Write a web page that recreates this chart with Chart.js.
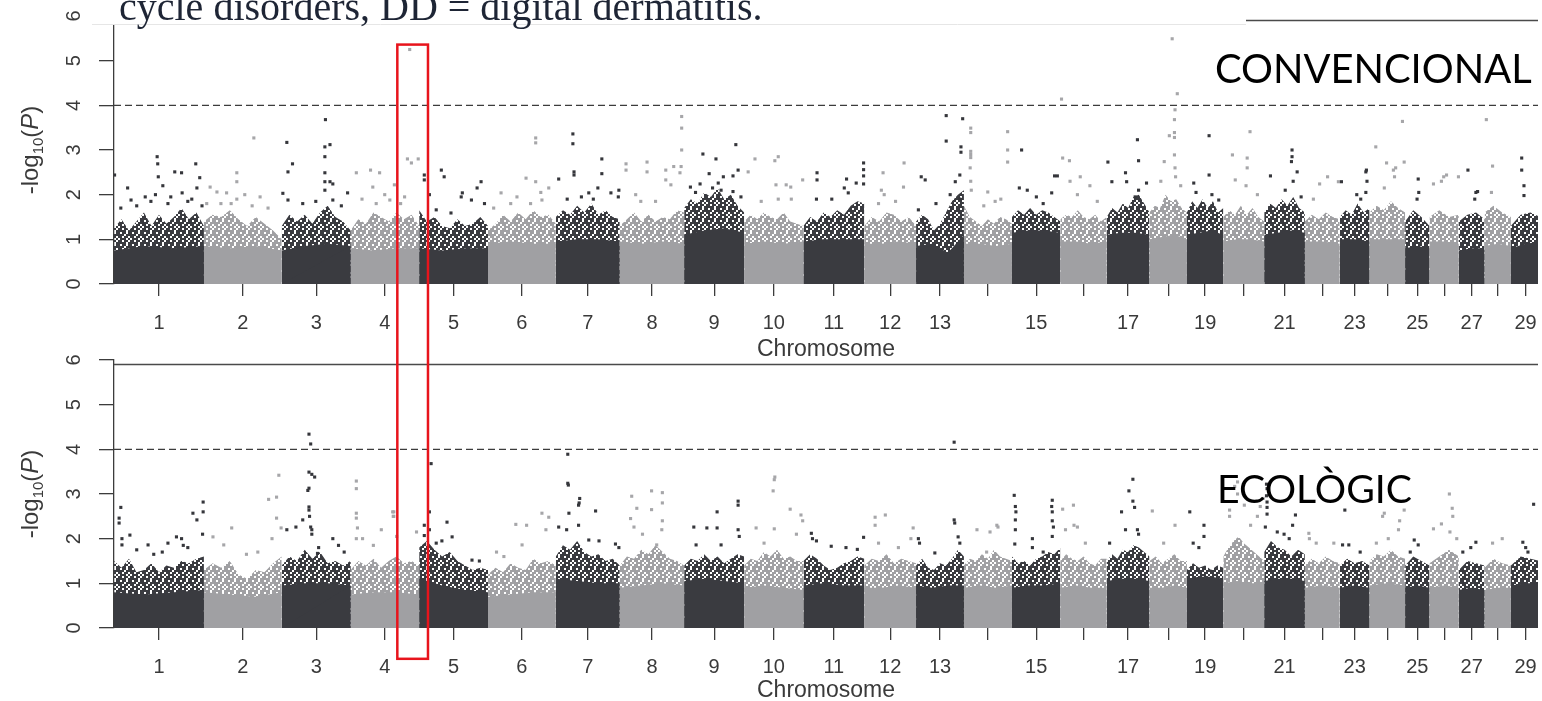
<!DOCTYPE html>
<html>
<head>
<meta charset="utf-8">
<script src="https://cdn.jsdelivr.net/npm/chart.js@4.4.1/dist/chart.umd.min.js"></script>
<style>
  body { margin: 0; background: #fff; }
  #wrap { position: relative; width: 1542px; height: 701px; overflow: hidden; background: #fff; }
  #wrap canvas { position: absolute; left: 0; top: 0; }
</style>
</head>
<body>
<div id="wrap">
  <canvas id="convChart" width="1542" height="701"></canvas>
  <canvas id="ecoChart" width="1542" height="701"></canvas>
</div>
<script>
// Chromosome lengths (Mb) and tick labels
const chromLengths = [158.3, 137.1, 121.4, 120.7, 121.2, 119.5, 112.6, 113.4, 105.7, 104.3,
  107.3, 91.2, 84.2, 84.6, 85.3, 81.7, 75.2, 66.0, 64.1, 72.0,
  71.6, 61.4, 52.5, 62.7, 42.9, 51.7, 45.4, 46.3, 51.5];
const tickLabels = ['1', '2', '3', '4', '5', '6', '7', '8', '9', '10', '11', '12', '13', '',
  '15', '', '17', '', '19', '', '21', '', '23', '', '25', '', '27', '', '29'];
const yTicks = [0, 1, 2, 3, 4, 5, 6];
const threshold = 4;

// CONVENCIONAL: solid block height and fuzzy cloud height along each chromosome
const convBody = [
  [0.75, 0.85, 0.8, 0.85], [0.85, 0.8, 0.85, 0.75], [0.75, 0.85, 0.9, 0.85], [0.8, 0.75, 0.8, 0.8],
  [0.8, 0.75, 0.8, 0.8], [0.9, 0.95, 0.9, 0.9], [0.95, 1.0, 1.0, 0.95], [0.95, 0.9, 0.95, 0.9],
  [1.1, 1.2, 1.25, 1.15], [0.9, 0.95, 0.9, 0.95], [0.95, 1.0, 1.0, 1.0], [0.9, 0.9, 0.95, 0.9],
  [0.85, 0.9, 0.7, 1.1], [0.9, 0.9, 0.85, 0.9], [1.15, 1.2, 1.2, 1.15], [0.95, 0.95, 0.9, 0.95],
  [1.1, 1.15, 1.15, 1.1], [1.0, 1.05, 1.1, 1.0], [1.1, 1.15, 1.2, 1.1], [0.95, 1.0, 1.0, 0.95],
  [1.1, 1.15, 1.2, 1.15], [0.95, 0.95, 0.9], [1.0, 1.0, 0.95], [1.0, 1.0, 1.0],
  [0.8, 0.85, 0.8], [0.95, 0.95, 0.9], [0.75, 0.8, 0.8], [0.85, 0.9, 0.85], [0.8, 0.9, 0.95]
];
const convCloud = [
  [1.25, 1.45, 1.2, 1.4, 1.6, 1.3, 1.55, 1.35, 1.5, 1.7, 1.45, 1.6, 1.3],
  [1.4, 1.55, 1.5, 1.65, 1.45, 1.3, 1.5, 1.35, 1.2, 1.0],
  [1.3, 1.55, 1.4, 1.55, 1.35, 1.6, 1.75, 1.5, 1.4, 1.2],
  [1.2, 1.45, 1.35, 1.6, 1.5, 1.4, 1.6, 1.45, 1.55, 1.3],
  [1.65, 1.4, 1.5, 1.3, 1.25, 1.45, 1.3, 1.35, 1.5, 1.3],
  [1.2, 1.35, 1.55, 1.4, 1.6, 1.45, 1.65, 1.5, 1.55, 1.35],
  [1.5, 1.65, 1.55, 1.75, 1.6, 1.8, 1.55, 1.65, 1.5, 1.45],
  [1.3, 1.45, 1.6, 1.4, 1.55, 1.4, 1.5, 1.45, 1.65, 1.6],
  [1.7, 1.9, 1.8, 2.05, 1.95, 2.15, 1.9, 2.0, 1.75, 1.6],
  [1.4, 1.55, 1.45, 1.6, 1.5, 1.45, 1.6, 1.4, 1.35, 1.3],
  [1.3, 1.5, 1.4, 1.6, 1.5, 1.65, 1.55, 1.75, 1.85, 1.8],
  [1.3, 1.5, 1.4, 1.6, 1.55, 1.4, 1.5, 1.3],
  [1.4, 1.55, 1.45, 1.2, 1.35, 1.6, 1.85, 2.0, 2.1],
  [1.75, 1.5, 1.4, 1.3, 1.45, 1.35, 1.5, 1.45, 1.35],
  [1.5, 1.65, 1.55, 1.7, 1.55, 1.65, 1.6, 1.5, 1.4],
  [1.45, 1.55, 1.5, 1.65, 1.5, 1.45, 1.55, 1.4, 1.5],
  [1.5, 1.7, 1.6, 1.8, 1.7, 1.95, 2.0, 1.8, 1.6],
  [1.6, 1.75, 1.7, 2.0, 1.85, 1.9, 1.7, 1.6],
  [1.6, 1.85, 1.7, 1.9, 1.7, 1.85, 1.6, 1.7],
  [1.5, 1.65, 1.55, 1.75, 1.55, 1.7, 1.5, 1.4],
  [1.6, 1.8, 1.7, 1.9, 1.75, 1.95, 1.7, 1.6],
  [1.4, 1.55, 1.45, 1.6, 1.5, 1.45],
  [1.5, 1.65, 1.55, 1.8, 1.6, 1.7],
  [1.6, 1.75, 1.65, 1.85, 1.7, 1.6],
  [1.4, 1.65, 1.5, 1.3],
  [1.5, 1.65, 1.5, 1.55],
  [1.4, 1.55, 1.6, 1.45],
  [1.6, 1.75, 1.6, 1.5],
  [1.3, 1.55, 1.6, 1.5]
];
// [chromosome, position in Mb, -log10(P)]
const convHits = [
  [1,1,2.44],[1,24,2.15],[1,30,1.88],[1,55,1.95],[1,76,2.85],[1,77,2.69],[1,78,2.4],[1,86,2.2],[1,107,2.51],
  [1,119,2.49],[1,120,2.04],[1,144,2.69],[1,151,2.38],[1,146,2.15],[1,73,2.0],[1,40,1.75],[1,95,1.8],[1,130,1.85],
  [1,12,1.7],[1,65,1.85],[1,100,1.95],[1,137,1.9],[1,155,1.75],
  [2,88,3.27],[2,58,2.49],[2,58,2.29],[2,11,2.17],[2,23,2.06],[2,40,2.04],[2,72,2.0],[2,99,1.95],[2,113,1.7],
  [2,58,1.9],[2,30,1.8],[2,85,1.75],[2,5,1.8],[2,48,1.8],
  [3,9,3.17],[3,19,2.69],[3,11,2.51],[3,2,2.03],[3,11,1.88],[3,77,3.68],[3,85,3.12],[3,76,3.07],[3,76,2.85],
  [3,76,2.49],[3,76,2.29],[3,85,2.29],[3,90,2.24],[3,76,2.1],[3,116,2.04],[3,90,1.88],[3,37,1.8],[3,60,1.85],[3,105,1.75],
  [4,10,2.49],[4,35,2.55],[4,51,2.49],[4,39,2.17],[4,77,2.22],[4,69,1.88],[4,104,5.25],[4,100,2.8],[4,107,2.71],
  [4,119,2.8],[4,95,1.95],[4,88,1.8],[4,20,1.9],[4,60,2.0],[4,45,1.8],
  [5,9,2.44],[5,9,2.33],[5,39,2.55],[5,44,2.4],[5,18,2.0],[5,76,2.04],[5,74,1.95],[5,102,2.15],[5,109,2.29],
  [5,92,1.88],[5,30,1.66],[5,56,1.59],[5,115,1.8],
  [6,84,3.27],[6,84,3.16],[6,67,2.37],[6,84,2.29],[6,107,2.15],[6,23,2.04],[6,51,1.95],[6,93,2.05],[6,95,1.88],
  [6,10,1.7],[6,40,1.8],[6,75,1.8],
  [7,30,3.36],[7,30,3.14],[7,32,2.51],[7,32,2.44],[7,5,2.35],[7,81,2.8],[7,81,2.47],[7,58,2.04],[7,74,2.15],
  [7,97,2.04],[7,111,2.1],[7,110,1.95],[7,20,1.9],[7,45,1.95],[7,66,1.9],
  [8,11,2.69],[8,11,2.55],[8,48,2.73],[8,48,2.51],[8,28,2.0],[8,37,1.85],[8,63,1.85],[8,81,2.55],[8,81,2.33],
  [8,95,2.63],[8,109,3.75],[8,109,3.49],[8,109,3.0],[8,108,2.63],[8,106,2.49],[8,90,2.22],
  [9,33,2.91],[9,56,2.8],[9,91,3.12],[9,95,2.55],[9,44,2.47],[9,69,2.4],[9,86,2.42],[9,28,2.24],[9,60,2.26],
  [9,65,2.1],[9,11,2.17],[9,86,2.07],[9,100,1.95],[9,20,2.05],[9,50,2.15],
  [10,19,2.8],[10,7,2.51],[10,54,2.76],[10,56,2.22],[10,74,2.22],[10,60,2.85],[10,82,2.17],[10,103,2.33],
  [10,60,1.9],[10,83,1.9],[10,30,1.85],
  [11,24,2.49],[11,24,2.33],[11,23,1.9],[11,76,2.35],[11,93,2.26],[11,106,2.71],[11,106,2.56],[11,106,2.42],
  [11,106,2.24],[11,72,2.15],[11,79,2.04],[11,50,1.9],
  [12,33,2.49],[12,70,2.71],[12,30,2.1],[12,35,2.0],[12,69,2.17],[12,25,1.8],[12,55,1.85],
  [13,53,3.77],[13,82,3.7],[13,53,3.2],[13,79,3.07],[13,79,2.95],[13,77,2.44],[13,69,2.29],[13,9,2.4],[13,16,2.33],
  [13,4,1.66],[13,60,2.0],[13,77,1.9],[13,35,1.8],
  [14,12,3.49],[14,12,3.39],[14,12,2.97],[14,12,2.9],[14,12,2.83],[14,11,2.6],[14,12,2.3],[14,13,2.1],[14,42,2.06],
  [14,77,3.41],[14,77,3.0],[14,77,2.73],[14,65,1.9],[14,35,1.75],[14,55,1.85],
  [15,17,3.0],[15,13,2.15],[15,27,2.1],[15,75,2.42],[15,80,2.42],[15,43,1.95],[15,70,2.04],[15,55,1.8],
  [16,2,4.14],[16,4,2.82],[16,16,2.76],[16,35,2.4],[16,17,2.3],[16,52,2.2],[16,30,2.0],[16,65,1.85],
  [17,2,2.73],[17,54,3.23],[17,56,2.76],[17,33,2.49],[17,9,2.29],[17,35,2.29],[17,70,2.26],[17,56,2.1],[17,50,1.95],
  [18,40,5.49],[18,49,4.26],[18,45,3.9],[18,44,3.68],[18,44,3.39],[18,35,3.32],[18,44,3.28],[18,44,2.89],
  [18,26,2.74],[18,45,2.6],[18,46,2.4],[18,20,2.3],[18,55,2.2],
  [19,39,3.32],[19,39,2.44],[19,12,2.26],[19,16,2.05],[19,44,2.0],[19,56,1.88],
  [20,47,3.41],[20,16,2.89],[20,42,2.82],[20,42,2.6],[20,21,2.33],[20,40,2.2],[20,60,2.0],
  [21,49,3.0],[21,49,2.85],[21,48,2.74],[21,58,2.51],[21,11,2.42],[21,37,2.1],[21,51,2.3],[21,65,1.95],
  [22,26,2.24],[22,40,2.4],[22,59,2.29],[22,15,1.9],
  [23,46,2.51],[23,47,2.55],[23,48,2.3],[23,3,2.29],[23,46,2.05],[23,30,2.0],[23,37,1.9],
  [24,11,3.07],[24,30,2.71],[24,42,2.55],[24,46,2.6],[24,44,2.4],[24,26,2.15],[24,58,3.64],[24,61,2.73],
  [25,23,2.35],[25,24,2.05],[25,21,1.9],
  [26,25,2.4],[26,30,2.44],[26,51,2.4],[26,7,2.24],[26,21,2.3],
  [27,16,2.55],[27,30,2.05],[27,33,2.07],[27,28,1.9],
  [28,3,3.68],[28,14,2.64],[28,12,2.05],
  [29,19,2.82],[29,19,2.55],[29,23,2.2],[29,23,1.98]
];

// ECOLÒGIC
const ecoBody = [
  [0.8, 0.75, 0.8, 0.85], [0.8, 0.75, 0.7, 0.8], [0.95, 1.0, 1.0, 0.95], [0.75, 0.8, 0.8, 0.75],
  [1.1, 0.95, 0.85, 0.8], [0.7, 0.75, 0.8, 0.8], [1.1, 1.05, 1.0, 1.0], [0.9, 0.95, 1.0, 0.95],
  [1.05, 1.1, 1.05, 1.0], [0.9, 0.95, 0.9, 0.85], [0.95, 1.0, 0.95, 0.95], [0.9, 0.9, 0.95, 0.9],
  [0.95, 0.9, 0.95, 0.95], [0.9, 0.95, 0.9, 0.95], [0.9, 0.95, 0.95, 1.0], [0.9, 0.95, 0.9, 0.9],
  [1.05, 1.1, 1.1, 1.05], [0.9, 0.9, 0.95, 0.9], [1.1, 1.15, 1.15, 1.1], [1.0, 1.05, 1.0, 1.0],
  [1.05, 1.1, 1.1, 1.05], [0.9, 0.95, 0.9], [0.9, 0.95, 0.9], [0.95, 1.0, 0.95],
  [0.9, 0.95, 0.9], [0.9, 0.95, 0.9], [0.85, 0.9, 0.85], [0.85, 0.9, 0.9], [0.95, 1.0, 1.0]
];
const ecoCloud = [
  [1.5, 1.35, 1.55, 1.25, 1.3, 1.45, 1.25, 1.4, 1.35, 1.5, 1.45, 1.55, 1.6],
  [1.3, 1.45, 1.35, 1.5, 1.2, 1.1, 1.3, 1.25, 1.45, 1.6],
  [1.4, 1.6, 1.5, 1.75, 1.55, 1.7, 1.45, 1.5, 1.4, 1.5],
  [1.3, 1.5, 1.4, 1.55, 1.35, 1.5, 1.6, 1.45, 1.5, 1.4],
  [1.8, 1.95, 1.75, 1.6, 1.7, 1.5, 1.4, 1.3, 1.35, 1.3],
  [1.2, 1.35, 1.25, 1.45, 1.35, 1.3, 1.55, 1.45, 1.5, 1.4],
  [1.6, 1.85, 1.75, 1.95, 1.7, 1.6, 1.65, 1.5, 1.55, 1.4],
  [1.4, 1.6, 1.55, 1.75, 1.65, 1.85, 1.7, 1.55, 1.5, 1.4],
  [1.4, 1.55, 1.5, 1.65, 1.5, 1.6, 1.45, 1.55, 1.65, 1.6],
  [1.4, 1.55, 1.5, 1.7, 1.6, 1.75, 1.55, 1.6, 1.5, 1.5],
  [1.5, 1.65, 1.55, 1.4, 1.3, 1.35, 1.45, 1.5, 1.6, 1.55],
  [1.4, 1.55, 1.5, 1.65, 1.45, 1.55, 1.5, 1.45],
  [1.4, 1.55, 1.35, 1.3, 1.45, 1.4, 1.55, 1.75, 1.6],
  [1.4, 1.55, 1.5, 1.65, 1.55, 1.75, 1.6, 1.55, 1.5],
  [1.6, 1.45, 1.5, 1.4, 1.55, 1.6, 1.7, 1.65, 1.8],
  [1.5, 1.65, 1.55, 1.5, 1.6, 1.45, 1.4, 1.55, 1.55],
  [1.5, 1.65, 1.55, 1.75, 1.7, 1.85, 1.8, 1.7, 1.6],
  [1.5, 1.6, 1.45, 1.55, 1.65, 1.5, 1.5],
  [1.3, 1.45, 1.35, 1.4, 1.3, 1.4, 1.35],
  [1.6, 1.8, 1.95, 2.05, 1.9, 1.8, 1.7, 1.6, 1.5],
  [1.7, 1.95, 1.8, 1.75, 1.6, 1.75, 1.65],
  [1.4, 1.55, 1.45, 1.6, 1.5, 1.45],
  [1.4, 1.55, 1.45, 1.5, 1.4],
  [1.5, 1.65, 1.6, 1.75, 1.6, 1.55],
  [1.4, 1.6, 1.5, 1.4],
  [1.45, 1.6, 1.75, 1.6],
  [1.3, 1.5, 1.45, 1.4],
  [1.35, 1.55, 1.45, 1.4],
  [1.4, 1.6, 1.55, 1.5]
];
const ecoHits = [
  [1,12,2.7],[1,9,2.46],[1,9,2.35],[1,28,2.08],[1,14,2.0],[1,14,1.86],[1,60,1.86],[1,110,2.04],[1,119,2.0],
  [1,139,2.57],[1,146,2.42],[1,157,2.82],[1,157,2.6],[1,156,2.1],[1,130,1.8],[1,95,1.9],[1,85,1.7],[1,40,1.75],
  [1,70,1.65],[1,122,1.85],
  [2,114,2.88],[2,128,2.93],[2,132,3.42],[2,128,2.46],[2,120,2.0],[2,136,2.24],[2,49,2.24],[2,16,2.04],
  [2,35,1.86],[2,95,1.7],[2,75,1.65],
  [3,48,4.34],[3,51,4.12],[3,48,3.49],[3,53,3.44],[3,58,3.38],[3,48,3.13],[3,46,3.08],[3,48,2.71],[3,48,2.64],
  [3,49,2.5],[3,51,2.26],[3,53,2.2],[3,53,2.1],[3,37,2.42],[3,25,2.26],[3,90,2.0],[3,63,1.67],[3,65,1.8],
  [3,110,1.7],[3,9,2.2],[3,100,1.85],
  [4,10,3.29],[4,10,3.12],[4,10,2.57],[4,10,2.46],[4,12,2.24],[4,10,2.0],[4,54,2.2],[4,74,2.6],[4,75,2.5],
  [4,76,2.6],[4,76,2.5],[4,116,2.15],[4,81,2.05],[4,21,2.0],[4,40,1.85],
  [5,21,3.68],[5,18,2.6],[5,9,2.3],[5,18,2.2],[5,49,2.37],[5,58,2.04],[5,9,2.07],[5,93,1.52],[5,106,1.5],
  [5,30,1.9],[5,40,1.95],
  [6,49,2.32],[6,68,2.3],[6,95,2.57],[6,107,2.48],[6,102,2.2],[6,60,1.86],[6,28,1.6],[6,15,1.7],
  [7,21,3.89],[7,21,3.24],[7,22,3.2],[7,42,2.9],[7,41,2.8],[7,40,2.75],[7,23,2.57],[7,70,2.62],[7,5,2.26],
  [7,19,2.2],[7,40,2.3],[7,58,1.97],[7,76,1.95],[7,105,1.88],[7,111,1.8],
  [8,21,2.95],[8,30,2.68],[8,56,3.07],[8,75,3.03],[8,56,2.65],[8,75,2.8],[8,19,2.45],[8,25,2.26],[8,75,2.4],
  [8,74,2.2],[8,40,2.1],[8,65,1.86],
  [9,58,2.6],[9,95,2.84],[9,95,2.75],[9,17,2.26],[9,40,2.24],[9,58,2.24],[9,95,2.2],[9,97,2.05],[9,21,1.86],[9,65,1.86],
  [10,54,3.38],[10,53,3.32],[10,51,3.07],[10,21,2.24],[10,53,2.22],[10,81,2.66],[10,100,2.53],[10,103,2.4],
  [10,92,2.1],[10,35,1.9],
  [11,14,2.12],[11,16,2.0],[11,23,1.95],[11,49,1.83],[11,106,2.03],[11,95,1.76],[11,75,1.8],
  [12,19,2.48],[12,37,2.53],[12,19,2.3],[12,86,2.24],[12,82,2.0],[12,25,1.9],[12,60,1.8],
  [13,67,4.16],[13,67,2.42],[13,68,2.35],[13,74,2.04],[13,33,1.68],[13,4,2.0],[13,6,1.9],[13,77,1.9],
  [14,46,2.15],[14,60,2.26],[14,58,2.3],[14,23,2.2],[14,40,1.7],
  [15,4,2.97],[15,6,2.72],[15,7,2.6],[15,6,2.42],[15,6,2.2],[15,5,1.88],[15,71,2.86],[15,70,2.72],[15,71,2.6],
  [15,71,2.4],[15,73,2.26],[15,71,2.05],[15,36,2.0],[15,36,1.8],[15,55,1.7],
  [16,4,2.66],[16,23,2.75],[16,24,2.3],[16,30,2.26],[16,9,2.2],[16,44,1.9],
  [17,46,3.33],[17,39,3.07],[17,46,2.84],[17,49,2.7],[17,26,2.6],[17,33,2.2],[17,54,2.2],[17,5,1.9],[17,56,2.1],
  [18,5,2.62],[18,45,2.3],[18,25,1.9],
  [19,5,2.6],[19,30,2.3],[19,30,2.05],[19,11,1.9],[19,21,1.8],
  [20,11,2.64],[20,25,3.27],[20,20,3.17],[20,25,3.0],[20,37,2.75],[20,11,2.5],[20,60,2.5],[20,48,2.3],
  [20,65,2.72],[20,70,2.9],
  [21,4,3.22],[21,5,3.12],[21,4,2.96],[21,5,2.82],[21,5,2.7],[21,5,2.55],[21,2,2.26],[21,23,2.15],[21,55,2.53],
  [21,50,2.3],[21,44,2.0],[21,35,2.1],
  [22,7,2.12],[22,8,2.0],[22,20,1.9],[22,51,1.9],
  [23,9,2.64],[23,5,1.86],[23,16,1.86],[23,36,1.7],
  [24,26,2.57],[24,23,2.5],[24,53,2.4],[24,51,2.2],[24,12,1.9],[24,33,2.0],[24,61,2.64],
  [25,16,1.97],[25,23,1.86],[25,9,1.7],
  [26,7,2.22],[26,21,2.33],[26,35,3.0],[26,40,2.68],[26,41,2.5],[26,36,2.15],[26,48,2.0],
  [27,30,1.92],[27,21,1.8],[27,7,1.7],
  [28,31,2.0],[28,14,1.9],
  [29,40,2.77],[29,21,1.92],[29,26,1.8],[29,30,1.7]
];

// Colours and fonts
const darkCol = '#3a3b40';
const grayCol = '#a0a0a3';
const darkPt = '#35363b';
const grayPt = '#a6a6a9';
const axisInk = '#3a3a3a';
const sans = '"Liberation Sans", Arial, Helvetica, sans-serif';

// Speckle texture for the loose part of each point cloud ('.' = white gap)
const speckTile = [
  '#.##.#',
  '###.##',
  '.##.##',
  '##.###',
  '#.##.#',
  '###.#.'
];
function speckle(color) {
  const c = document.createElement('canvas');
  c.width = speckTile[0].length * 2;
  c.height = speckTile.length * 2;
  const g = c.getContext('2d');
  g.fillStyle = color;
  speckTile.forEach((row, r) => {
    [...row].forEach((ch, k) => { if (ch === '#') g.fillRect(k * 2, r * 2, 2, 2); });
  });
  return g.createPattern(c, 'repeat');
}
const darkFringe = speckle(darkCol);
const grayFringe = speckle(grayCol);

// Cumulative chromosome starts
const starts = [];
let acc = 0;
chromLengths.forEach(l => { starts.push(acc); acc += l; });
const mids = chromLengths.map((l, i) => starts[i] + l / 2);
const xMax = 2508;

// Polygon along one chromosome: values read at even steps from start to end
function profile(i, values) {
  const s = starts[i], len = chromLengths[i], n = values.length;
  const pts = [{ x: s, y: 0 }];
  values.forEach((v, j) => pts.push({ x: s + len * j / (n - 1), y: v }));
  pts.push({ x: s + len, y: 0 });
  return pts;
}

function buildDatasets(body, cloud, hits) {
  const sets = [];
  sets.push({
    type: 'line', data: [{ x: 0, y: threshold }, { x: xMax, y: threshold }],
    borderColor: '#3c3c3c', borderWidth: 1.3, borderDash: [7, 4], pointRadius: 0, fill: false, order: 0
  });
  sets.push({
    type: 'scatter',
    data: hits.map(h => ({ x: starts[h[0] - 1] + h[1], y: h[2] })),
    pointBackgroundColor: hits.map(h => h[0] % 2 ? darkPt : grayPt),
    pointStyle: 'rect', pointRadius: 2.2, pointBorderWidth: 0, order: 1
  });
  chromLengths.forEach((l, i) => {
    const dark = i % 2 === 0;
    sets.push({
      type: 'line', data: profile(i, body[i]), backgroundColor: dark ? darkCol : grayCol,
      borderColor: 'rgba(0,0,0,0)', borderWidth: 0, pointRadius: 0, fill: 'origin', order: 2
    });
    sets.push({
      type: 'line', data: profile(i, cloud[i]), backgroundColor: dark ? darkFringe : grayFringe,
      borderColor: 'rgba(0,0,0,0)', borderWidth: 0, pointRadius: 0, fill: 'origin', order: 3
    });
  });
  return sets;
}

function fitText(ctx, text, x, y, w, family) {
  ctx.font = '40px ' + family;
  const size = 40 * w / ctx.measureText(text).width;
  ctx.font = size.toFixed(1) + 'px ' + family;
  ctx.textAlign = 'left';
  ctx.textBaseline = 'alphabetic';
  ctx.fillText(text, x, y);
}

function drawYTitle(ctx, bx, cy) {
  const parts = [
    ['-log', '24px ' + sans, 0], ['10', '15px ' + sans, 5],
    ['(', '24px ' + sans, 0], ['P', 'italic 24px ' + sans, 0], [')', '24px ' + sans, 0]
  ];
  ctx.save();
  ctx.translate(bx, cy);
  ctx.rotate(-Math.PI / 2);
  let total = 0;
  parts.forEach(p => { ctx.font = p[1]; total += ctx.measureText(p[0]).width; });
  let xx = -total / 2;
  ctx.textAlign = 'left';
  ctx.textBaseline = 'alphabetic';
  ctx.fillStyle = axisInk;
  parts.forEach(p => { ctx.font = p[1]; ctx.fillText(p[0], xx, p[2]); xx += ctx.measureText(p[0]).width; });
  ctx.restore();
}

let convChart = null;
const redBox = { from: 499, to: 553, topVal: 5.36, bottomVal: -0.69 };

// Axis labels in R style, panel frame and annotations
const decor = {
  id: 'decor',
  afterDraw(chart, args, o) {
    const { ctx, chartArea: a, scales: { x, y } } = chart;
    ctx.save();
    ctx.strokeStyle = '#4a4a4a';
    ctx.lineWidth = 1.4;
    const yTop = Math.round(y.getPixelForValue(5.92)) + 0.5;
    ctx.beginPath(); ctx.moveTo(a.left, yTop); ctx.lineTo(a.right, yTop); ctx.stroke();

    ctx.fillStyle = axisInk;
    ctx.font = '20px ' + sans;
    ctx.textAlign = 'center';
    ctx.textBaseline = 'alphabetic';
    yTicks.forEach(v => {
      ctx.save();
      ctx.translate(80, y.getPixelForValue(v));
      ctx.rotate(-Math.PI / 2);
      ctx.fillText(String(v), 0, 0);
      ctx.restore();
    });
    drawYTitle(ctx, 38, (a.top + a.bottom) / 2);

    if (o.caption) {
      ctx.fillStyle = '#fff';
      ctx.fillRect(92, 0, 1154, 24);
      ctx.strokeStyle = '#e6e6e6';
      ctx.lineWidth = 1;
      ctx.beginPath(); ctx.moveTo(92, 24.5); ctx.lineTo(1246, 24.5); ctx.stroke();
      ctx.fillStyle = '#1e2535';
      fitText(ctx, o.caption, 119, 20, 644, '"Liberation Serif", "DejaVu Serif", serif');
    }

    ctx.fillStyle = '#000';
    fitText(ctx, o.label, o.labelX, o.labelY, o.labelW, 'Lato, "Open Sans", sans-serif');

    if (o.box && convChart) {
      const top = convChart.scales.y.getPixelForValue(redBox.topVal);
      const bot = y.getPixelForValue(redBox.bottomVal);
      const l = x.getPixelForValue(redBox.from), r = x.getPixelForValue(redBox.to);
      ctx.strokeStyle = '#e8141c';
      ctx.lineWidth = 2.5;
      ctx.strokeRect(l, top, r - l, bot - top);
    }
    ctx.restore();
  }
};

function makeChart(id, datasets, padTop, padBottom, xHeight, decorOpts) {
  return new Chart(document.getElementById(id), {
    type: 'line',
    data: { datasets },
    plugins: [decor],
    options: {
      responsive: false,
      animation: false,
      devicePixelRatio: 1,
      layout: { padding: { top: padTop, bottom: padBottom, left: 0, right: 0 } },
      plugins: { legend: { display: false }, tooltip: { enabled: false }, decor: decorOpts },
      scales: {
        x: {
          type: 'linear', min: 0, max: xMax,
          afterBuildTicks: s => { s.ticks = mids.map(v => ({ value: v })); },
          afterFit: s => { s.height = xHeight; s.paddingLeft = 0; s.paddingRight = 0; },
          grid: { drawOnChartArea: false, tickLength: 12, color: '#3c3c3c', lineWidth: 1.3 },
          border: { display: false },
          ticks: {
            autoSkip: false, maxRotation: 0, minRotation: 0, padding: 15, color: axisInk,
            font: { family: sans, size: 20 },
            callback: (v, i) => tickLabels[i]
          },
          title: {
            display: true, text: 'Chromosome', color: axisInk,
            font: { family: sans, size: 23, lineHeight: 0.9 }, padding: 0
          }
        },
        y: {
          min: 0, max: 6,
          afterBuildTicks: s => { s.ticks = yTicks.map(v => ({ value: v })); },
          afterFit: s => { s.width = 114; },
          grid: { drawOnChartArea: false, tickLength: 15, color: '#3c3c3c', lineWidth: 1.3 },
          border: { display: true, color: '#3c3c3c', width: 1.3 },
          ticks: { display: false }
        }
      }
    }
  });
}

convChart = makeChart('convChart', buildDatasets(convBody, convCloud, convHits), 16, 341, 76, {
  label: 'CONVENCIONAL', labelX: 1215, labelY: 83, labelW: 317,
  caption: 'cycle disorders, DD = digital dermatitis.'
});
makeChart('ecoChart', buildDatasets(ecoBody, ecoCloud, ecoHits), 360, 0, 73, {
  label: 'ECOLÒGIC', labelX: 1217, labelY: 503, labelW: 195, box: true
});
</script>
</body>
</html>
